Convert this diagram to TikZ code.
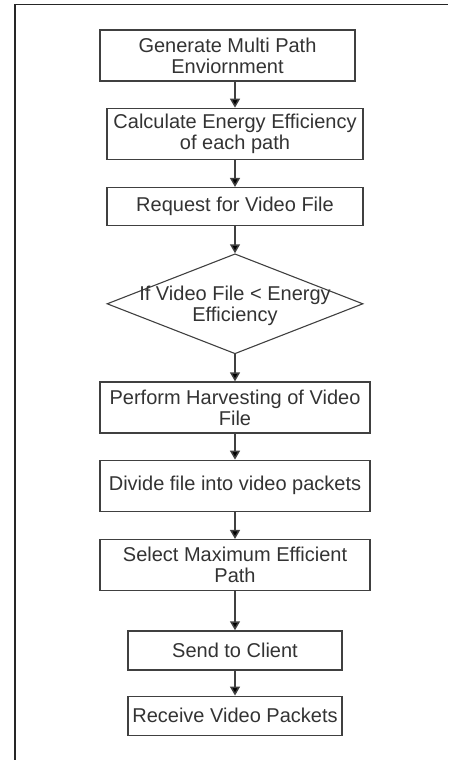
\documentclass[tikz,border=0pt]{standalone}
\usepackage{fontspec}
\setmainfont{Liberation Sans}
\usepackage{tikz}
\usetikzlibrary{positioning,shapes.geometric,arrows.meta}

\begin{document}
\begin{tikzpicture}
        \tikzstyle{every node}=[font=\fontsize{20}{21}\selectfont, text=black!80]
        \tikzstyle{stepbox}=[draw=black!75, line width=1.3pt, align=center, inner sep=0pt, minimum height=51pt, minimum width=270pt]
        \tikzstyle{decision}=[diamond, draw=black!75, line width=1.1pt, minimum width=256pt, minimum height=100pt, inner sep=0pt]
        \tikzstyle{flow}=[draw=black!75, line width=1.5pt, -{Triangle[length=9pt,width=10pt,fill=black]}]

        \useasboundingbox (0,0) rectangle (448pt,-760pt);
        \draw[black!85, line width=1.4pt] (15pt,-760pt) -- (15pt,-4.5pt) -- (448pt,-4.5pt);

        \node (gen)   [stepbox, minimum width=255pt] at (227.5pt,-55.5pt) {Generate Multi Path\\Enviornment};
        \node (calc)  [stepbox, minimum width=256pt, below=26pt of gen, xshift=7.5pt] {Calculate Energy Efficiency\\of each path};
        \node (req)   [stepbox, minimum width=256pt, minimum height=38pt, below=27pt of calc] {Request for Video File};
        \node (cond)  [decision, below=27pt of req] {};
        \node (condtxt) [align=center] at ([yshift=-2pt]cond.center) {If Video File < Energy\\Efficiency};
        \node (harv)  [stepbox, below=27pt of cond] {Perform Harvesting of Video\\File};
        \node (div)   [stepbox, below=26pt of harv] {Divide file into video packets};
        \node (sel)   [stepbox, below=27pt of div] {Select Maximum Efficient\\Path};
        \node (send)  [stepbox, minimum width=214pt, minimum height=39pt, below=39pt of sel] {Send to Client};
        \node (recv)  [stepbox, minimum width=214pt, minimum height=39pt, below=25pt of send] {Receive Video Packets};

        \draw[flow] (gen.south -| calc.north) -- (calc.north);
        \draw[flow] (calc) -- (req);
        \draw[flow] (req) -- (cond);
        \draw[flow] (cond) -- (harv);
        \draw[flow] (harv) -- (div);
        \draw[flow] (div) -- (sel);
        \draw[flow] (sel) -- (send);
        \draw[flow] (send) -- (recv);

    \end{tikzpicture}
\end{document}
